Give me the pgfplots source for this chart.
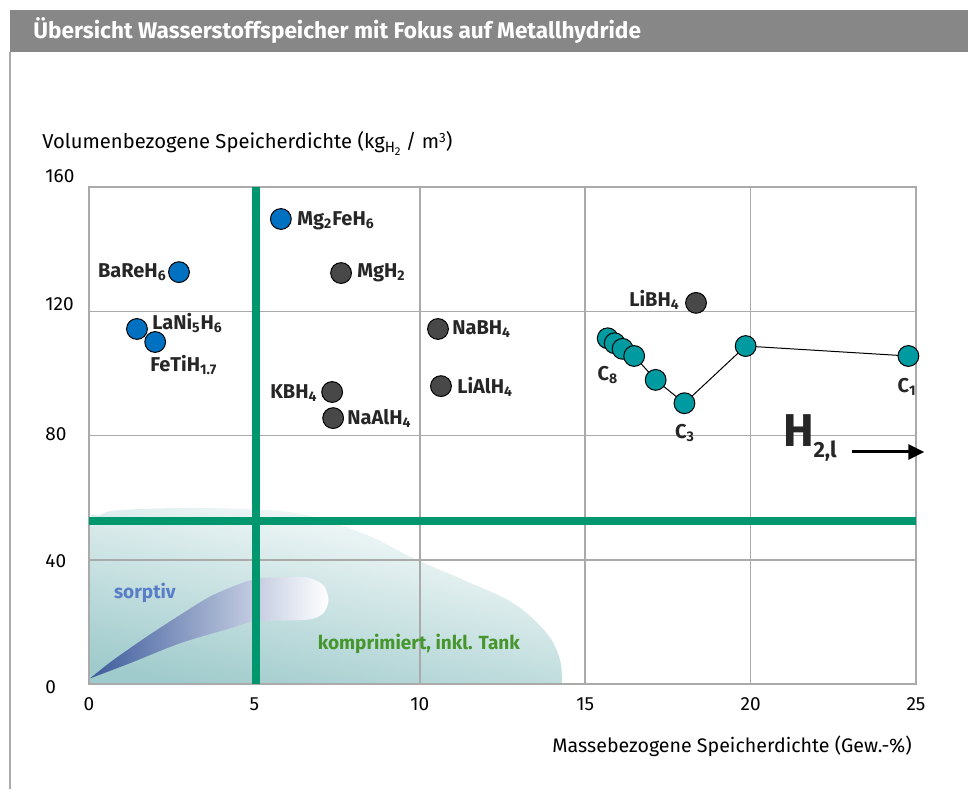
\documentclass[border=0pt]{standalone}
\usepackage{pgfplots}
\pgfplotsset{compat=1.18}
\usetikzlibrary{arrows.meta}
\usepackage{fontspec}
\setmainfont{Fira Sans}
\definecolor{tealc}{RGB}{0,155,160}
\definecolor{bluec}{RGB}{0,112,192}
\definecolor{grayc}{RGB}{72,72,72}
\definecolor{greenl}{RGB}{0,150,110}
\definecolor{gridc}{RGB}{170,170,170}
\definecolor{titlebg}{RGB}{135,135,135}
\definecolor{kompc}{RGB}{160,203,204}
\definecolor{sorpL}{RGB}{60,90,155}
\definecolor{sorpM}{RGB}{165,165,210}
\definecolor{sorpt}{RGB}{90,125,200}
\definecolor{kompt}{RGB}{70,150,45}
\begin{document}
\begin{tikzpicture}
\fill[titlebg] (5pt,368.5pt) rectangle (484pt,389.5pt);
\node[anchor=west, inner sep=0pt, text=white, font=\bfseries\fontsize{11.3}{13}\selectfont] at (16.5pt,379pt) {Übersicht Wasserstoffspeicher mit Fokus auf Metallhydride};
\draw[gridc, line width=0.8pt] (5pt,368.5pt) -- (5pt,0pt);
\begin{axis}[
  set layers,
  at={(44.5pt,52.5pt)}, anchor=south west,
  width=413.5pt, height=248.5pt, scale only axis,
  xmin=0, xmax=25, ymin=0, ymax=160,
  xtick={0,5,10,15,20,25}, ytick={0,40,80,120,160},
  yticklabels={\raisebox{-1.5pt}{0},\raisebox{-0.5pt}{40},\raisebox{1pt}{80},\raisebox{3.5pt}{120},\raisebox{5.5pt}{160}},
  grid=major, grid style={color=gridc, line width=0.75pt},
  axis line style={gridc, line width=0.75pt},
  major tick length=0pt,
  clip=false,
  /pgf/number format/assume math mode=true,
  ticklabel style={font=\fontsize{9.5}{11}\selectfont},
  yticklabel style={anchor=base west, inner sep=0pt, xshift=-22pt, yshift=-3.3pt},
  xticklabel style={yshift=-3.5pt},
]
% compressed storage region
\addplot[on layer=axis background, draw=none, top color=white, middle color=kompc!32!white, bottom color=kompc, shading angle=-12, smooth, tension=0.6] coordinates {
 (0,0) (0,49) (0.33,54.4) (1.24,56.2) (3.76,56.6) (6.28,55.0) (8.29,48.5) (9.80,40.5) (11.32,33.5) (12.83,26.0) (13.84,16.3) (14.24,7.7) (14.29,0)
} -- cycle;
% sorptive region
\addplot[on layer=axis background, draw=none, left color=sorpL, middle color=sorpM, right color=white, smooth, tension=0.5] coordinates {
 (0.03,1.8) (0.73,7.7) (1.74,15.2) (2.75,22.2) (3.76,28.7) (4.97,33.7) (5.77,34.3) (6.58,34.3) (7.08,31.9) (7.24,27.0) (7.08,22.8) (6.68,20.8) (5.77,20.4) (4.97,20.1) (4.26,17.9) (2.75,13.1) (1.24,6.7) (0.03,1.8)
} -- cycle;
% green division lines
\addplot[greenl, line width=4pt] coordinates {(5.05,0) (5.05,160)};
\addplot[greenl, line width=4pt] coordinates {(0,52.5) (25,52.5)};
% blue hydrides
\addplot[only marks, mark=*, mark size=5.2pt, mark options={fill=bluec, draw=black, line width=0.5pt}] coordinates {
 (5.80,149.7) (2.72,132.6) (1.45,114.3) (2.00,110.1)
};
% grey hydrides
\addplot[only marks, mark=*, mark size=5.2pt, mark options={fill=grayc, draw=black, line width=0.5pt}] coordinates {
 (7.62,132.3) (7.35,94.0) (7.38,85.6) (10.55,114.3) (10.64,95.9) (18.35,122.7)
};
% hydrocarbons
\addplot[black, line width=0.5pt, mark=*, mark size=5.2pt, mark options={fill=tealc, draw=black, line width=0.5pt}] coordinates {
 (15.68,111.3) (15.89,109.7) (16.13,107.9) (16.48,105.6) (17.13,97.9) (18.00,90.4) (19.85,108.8) (24.77,105.6)
};
\begin{scope}[every node/.style={inner sep=0pt, font=\bfseries\fontsize{10}{12}\selectfont, text=black!85}]
\node[anchor=west] at (axis cs:6.29,149.1) {Mg\textsubscript{2}FeH\textsubscript{6}};
\node[anchor=east] at (axis cs:2.36,132.6) {BaReH\textsubscript{6}};
\node[anchor=west] at (axis cs:1.90,116.2) {LaNi\textsubscript{5}H\textsubscript{6}};
\node[anchor=west] at (axis cs:1.84,102.7) {FeTiH\textsubscript{1.7}};
\node[anchor=west] at (axis cs:8.10,132.3) {MgH\textsubscript{2}};
\node[anchor=east] at (axis cs:6.92,93.7) {KBH\textsubscript{4}};
\node[anchor=west] at (axis cs:7.80,85.6) {NaAlH\textsubscript{4}};
\node[anchor=west] at (axis cs:10.97,114.3) {NaBH\textsubscript{4}};
\node[anchor=west] at (axis cs:11.12,95.6) {LiAlH\textsubscript{4}};
\node[anchor=east] at (axis cs:17.87,123.6) {LiBH\textsubscript{4}};
\node at (axis cs:15.69,99.5) {C\textsubscript{8}};
\node at (axis cs:18.02,80.8) {C\textsubscript{3}};
\node at (axis cs:24.73,95.6) {C\textsubscript{1}};
\node[text=sorpt, font=\bfseries\fontsize{9.5}{11}\selectfont] at (axis cs:1.69,29.3) {sorptiv};
\node[text=kompt, font=\bfseries\fontsize{9.5}{11}\selectfont] at (axis cs:9.97,12.9) {komprimiert, inkl. Tank};
\node[anchor=base west, font=\bfseries\fontsize{23}{25}\selectfont] at (axis cs:20.98,76.3) {H};
\node[anchor=base west, font=\bfseries\fontsize{11}{13}\selectfont] at (axis cs:21.89,72.8) {2,l};
\end{scope}
\draw[black, line width=1.5pt, -{Triangle[length=8pt,width=7.5pt]}] (axis cs:23.07,74.7) -- (axis cs:25.25,74.7);
\end{axis}
\node[anchor=west, inner sep=0pt, font=\fontsize{10.1}{11}\selectfont] at (21pt,323pt) {Volumenbezogene Speicherdichte (kg\raisebox{-2.2pt}{\fontsize{7.5}{8}\selectfont H\raisebox{-1.3pt}{\fontsize{5.7}{6}\selectfont 2}} / m\raisebox{2.6pt}{\fontsize{6.7}{7}\selectfont 3})};
\node[anchor=east, inner sep=0pt, font=\fontsize{9.8}{11}\selectfont] at (456pt,21.5pt) {Massebezogene Speicherdichte (Gew.-\%)};
\pgfresetboundingbox
\useasboundingbox (0,0) rectangle (484pt,394.5pt);
\end{tikzpicture}
\end{document}
